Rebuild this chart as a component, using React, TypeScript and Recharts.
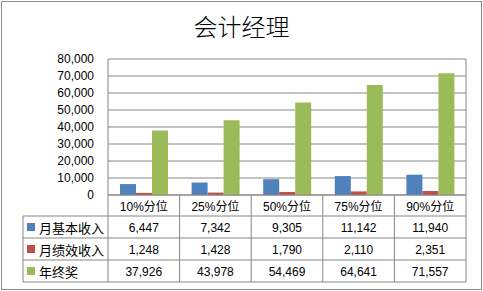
import { Bar, BarChart, CartesianGrid, XAxis, YAxis } from "recharts";

const categories = ["10%分位", "25%分位", "50%分位", "75%分位", "90%分位"];
const baseIncome = [6447, 7342, 9305, 11142, 11940];
const perfIncome = [1248, 1428, 1790, 2110, 2351];
const annualBonus = [37926, 43978, 54469, 64641, 71557];
const yTicks = [0, 10000, 20000, 30000, 40000, 50000, 60000, 70000, 80000];

const series = [
  { key: "base", name: "月基本收入", color: "#4F81BD", values: baseIncome },
  { key: "perf", name: "月绩效收入", color: "#C0504D", values: perfIncome },
  { key: "bonus", name: "年终奖", color: "#9BBB59", values: annualBonus },
];

const data = categories.map((category, i) => ({
  category,
  base: baseIncome[i],
  perf: perfIncome[i],
  bonus: annualBonus[i],
}));

// layout
const W = 483;
const H = 291;
const PLOT_LEFT = 108;
const PLOT_RIGHT = 466;
const PLOT_TOP = 59;
const PLOT_BOTTOM = 195;
const TABLE_LEFT = 23;
const ROW_LINES = [216, 238, 260, 282];
const LINE = "#868686";
const FONT = "'Liberation Sans', 'Noto Sans CJK SC', sans-serif";

const fmt = (v: number) => v.toLocaleString("en-US");

function TableTick(props: any) {
  const { x, payload } = props;
  const idx = categories.indexOf(payload.value);
  const colW = (PLOT_RIGHT - PLOT_LEFT) / categories.length;
  const right = x + colW / 2;
  const headerMid = (PLOT_BOTTOM + ROW_LINES[0]) / 2 + 1;

  return (
    <g>
      <line x1={right} x2={right} y1={PLOT_BOTTOM} y2={ROW_LINES[3]} stroke={LINE} />
      <text
        x={x}
        y={headerMid}
        textAnchor="middle"
        dominantBaseline="central"
        fontSize={12}
        fontFamily={FONT}
        fill="#000"
      >
        {payload.value}
      </text>
      {series.map((s, r) => (
        <text
          key={s.key}
          x={x}
          y={(ROW_LINES[r] + ROW_LINES[r + 1]) / 2 + 1}
          textAnchor="middle"
          dominantBaseline="central"
          fontSize={12}
          fontFamily={FONT}
          fill="#000"
        >
          {fmt(s.values[idx])}
        </text>
      ))}
      {idx === 0 && (
        <g>
          <line x1={PLOT_LEFT} x2={PLOT_LEFT} y1={PLOT_BOTTOM} y2={ROW_LINES[3]} stroke={LINE} />
          <line x1={TABLE_LEFT} x2={TABLE_LEFT} y1={ROW_LINES[0]} y2={ROW_LINES[3]} stroke={LINE} />
          {ROW_LINES.map((y) => (
            <line key={y} x1={TABLE_LEFT} x2={PLOT_RIGHT} y1={y} y2={y} stroke={LINE} />
          ))}
          {series.map((s, r) => {
            const mid = (ROW_LINES[r] + ROW_LINES[r + 1]) / 2;
            return (
              <g key={s.key}>
                <rect x={27} y={mid - 4} width={8} height={8} fill={s.color} />
                <text
                  x={39}
                  y={mid + 1}
                  dominantBaseline="central"
                  fontSize={13}
                  fontFamily={FONT}
                  fill="#000"
                >
                  {s.name}
                </text>
              </g>
            );
          })}
        </g>
      )}
    </g>
  );
}

export default function App() {
  return (
    <div style={{ position: "absolute", left: 0, top: 0, width: W, height: H, background: "#fff" }}>
      <div
        style={{
          position: "absolute",
          left: 1,
          top: 1,
          width: W - 4,
          height: H - 4,
          border: "1px solid #8a8a8a",
        }}
      />
      <div
        style={{
          position: "absolute",
          left: 0,
          top: 11,
          width: W,
          textAlign: "center",
          fontSize: 24,
          lineHeight: "30px",
          fontWeight: 300,
          fontFamily: "'Noto Sans CJK SC', sans-serif",
          color: "#000",
        }}
      >
        会计经理
      </div>
      <div style={{ position: "absolute", left: 0, top: 0 }}>
        <BarChart
          width={W}
          height={H}
          data={data}
          margin={{ top: PLOT_TOP, right: W - PLOT_RIGHT, left: PLOT_LEFT - 60, bottom: 0 }}
          barGap={0}
          barSize={16}
        >
          <CartesianGrid
            stroke={LINE}
            verticalPoints={[PLOT_LEFT, PLOT_RIGHT]}
          />
          <XAxis
            dataKey="category"
            height={H - PLOT_BOTTOM}
            axisLine={{ stroke: LINE }}
            tickLine={false}
            interval={0}
            tick={<TableTick />}
          />
          <YAxis
            width={60}
            domain={[0, 80000]}
            ticks={yTicks}
            interval={0}
            tickFormatter={fmt}
            axisLine={false}
            tickLine={false}
            tickMargin={8}
            tick={{ fontSize: 12, fontFamily: FONT, fill: "#000" }}
          />
          {series.map((s) => (
            <Bar
              key={s.key}
              dataKey={s.key}
              name={s.name}
              fill={s.color}
              isAnimationActive={false}
            />
          ))}
        </BarChart>
      </div>
    </div>
  );
}
